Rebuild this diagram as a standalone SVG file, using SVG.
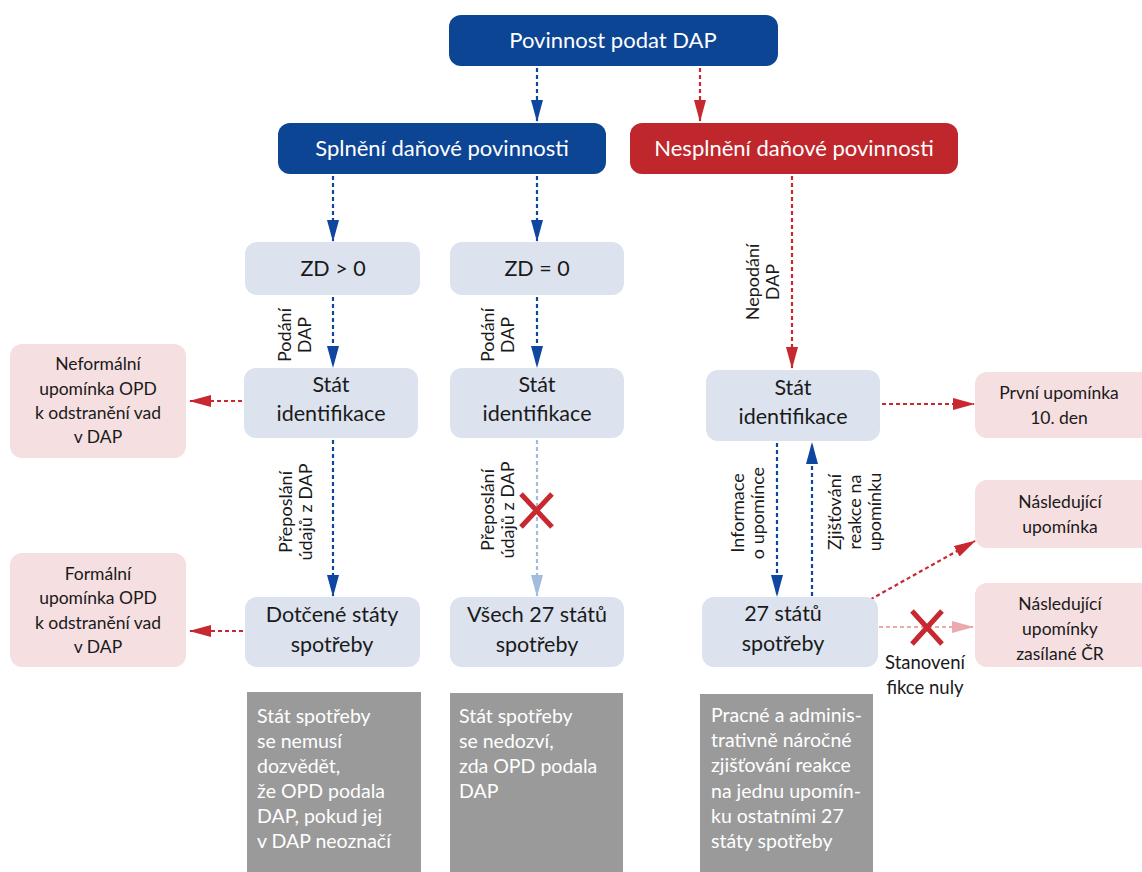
<svg xmlns="http://www.w3.org/2000/svg" width="1142" height="872" viewBox="0 0 1142 872">
<defs>
<style>
text{font-family:Lato,"Liberation Sans","DejaVu Sans",sans-serif;}
.dark{fill:#0d4595;}
.redbox{fill:#c0272d;}
.lb{fill:#dce3ee;}
.pk{fill:#f5dfe1;}
.gr{fill:#9a9a9a;}
.wt{fill:#ffffff;font-size:22px;text-anchor:middle;}
.nt{fill:#1a1a1a;font-size:21.5px;text-anchor:middle;}
.pt{fill:#1a1a1a;font-size:17.5px;text-anchor:middle;}
.st{fill:#1a1a1a;font-size:18.5px;text-anchor:middle;}
.gt{fill:#ffffff;font-size:19.5px;}
.lt{fill:#1a1a1a;font-size:18px;text-anchor:middle;}
.cb{fill:none;stroke:#0f47a0;stroke-width:2.2;stroke-dasharray:4 3;}
.cr{fill:none;stroke:#c8282f;stroke-width:2.2;stroke-dasharray:4 3;}
.clb{fill:none;stroke:#a3bbdc;stroke-width:2.2;stroke-dasharray:4 3;}
.clr{fill:none;stroke:#eba8ad;stroke-width:2.2;stroke-dasharray:4 3;}
.x{stroke:#c8282f;stroke-width:5;fill:none;}
</style>
<marker id="ab" markerUnits="userSpaceOnUse" markerWidth="22" markerHeight="12" refX="21" refY="6" orient="auto"><path d="M0,0 L22,6 L0,12 z" fill="#0f47a0"/></marker>
<marker id="ar" markerUnits="userSpaceOnUse" markerWidth="22" markerHeight="12" refX="21" refY="6" orient="auto"><path d="M0,0 L22,6 L0,12 z" fill="#c8282f"/></marker>
<marker id="alb" markerUnits="userSpaceOnUse" markerWidth="22" markerHeight="12" refX="21" refY="6" orient="auto"><path d="M0,0 L22,6 L0,12 z" fill="#a3bbdc"/></marker>
<marker id="alr" markerUnits="userSpaceOnUse" markerWidth="22" markerHeight="12" refX="21" refY="6" orient="auto"><path d="M0,0 L22,6 L0,12 z" fill="#eba8ad"/></marker>
</defs>
<rect width="1142" height="872" fill="#ffffff"/>

<g id="connectors">
<line class="cb" x1="537" y1="68" x2="537" y2="121" marker-end="url(#ab)"/>
<line class="cr" x1="700" y1="68" x2="700" y2="121" marker-end="url(#ar)"/>
<line class="cb" x1="333" y1="176" x2="333" y2="241" marker-end="url(#ab)"/>
<line class="cb" x1="537" y1="176" x2="537" y2="241" marker-end="url(#ab)"/>
<line class="cr" x1="792" y1="176" x2="792" y2="368" marker-end="url(#ar)"/>
<line class="cb" x1="333" y1="297" x2="333" y2="367" marker-end="url(#ab)"/>
<line class="cb" x1="537" y1="297" x2="537" y2="367" marker-end="url(#ab)"/>
<line class="cr" x1="242" y1="401" x2="190" y2="401" marker-end="url(#ar)"/>
<line class="cr" x1="882" y1="404" x2="974" y2="404" marker-end="url(#ar)"/>
<line class="cb" x1="333" y1="440" x2="333" y2="596" marker-end="url(#ab)"/>
<line class="clb" x1="537" y1="440" x2="537" y2="596" marker-end="url(#alb)"/>
<line class="cr" x1="243" y1="631" x2="190" y2="631" marker-end="url(#ar)"/>
<line class="cb" x1="777" y1="443" x2="777" y2="596" marker-end="url(#ab)"/>
<line class="cb" x1="812" y1="596" x2="812" y2="443" marker-end="url(#ab)"/>
<line class="cr" x1="864" y1="603" x2="975" y2="541" marker-end="url(#ar)"/>
<line class="clr" x1="879" y1="627" x2="973" y2="627" marker-end="url(#alr)"/>
<path class="x" d="M521,494 L552,527 M552,494 L521,527"/>
<path class="x" d="M912,611 L942,644 M942,611 L912,644"/>
<text class="lt" transform="translate(291,335) rotate(-90)"><tspan x="0" y="0">Podání</tspan><tspan x="0" dy="20">DAP</tspan></text>
<text class="lt" transform="translate(494,335) rotate(-90)"><tspan x="0" y="0">Podání</tspan><tspan x="0" dy="20">DAP</tspan></text>
<text class="lt" transform="translate(759,282) rotate(-90)"><tspan x="0" y="0">Nepodání</tspan><tspan x="0" dy="20">DAP</tspan></text>
<text class="lt" transform="translate(292,512) rotate(-90)"><tspan x="0" y="0">Přeposlání</tspan><tspan x="0" dy="20">údajů z DAP</tspan></text>
<text class="lt" transform="translate(494,510) rotate(-90)"><tspan x="0" y="0">Přeposlání</tspan><tspan x="0" dy="20">údajů z DAP</tspan></text>
<text class="lt" transform="translate(744,513) rotate(-90)"><tspan x="0" y="0">Informace</tspan><tspan x="0" dy="20">o upomínce</tspan></text>
<text class="lt" transform="translate(841,512) rotate(-90)"><tspan x="0" y="0">Zjišťování</tspan><tspan x="0" dy="20">reakce na</tspan><tspan x="0" dy="20">upomínku</tspan></text>
<text class="st" x="925" y="669">Stanovení</text>
<text class="st" x="925" y="694">fikce nuly</text>
</g>

<g id="n-povinnost"><rect class="dark" x="449" y="15" width="329" height="51" rx="12"/><text class="wt" x="613" y="48">Povinnost podat DAP</text></g>
<g id="n-splneni"><rect class="dark" x="278" y="123" width="328" height="51" rx="12"/><text class="wt" x="442" y="156">Splnění daňové povinnosti</text></g>
<g id="n-nesplneni"><rect class="redbox" x="630" y="123" width="328" height="51" rx="12"/><text class="wt" x="794" y="156">Nesplnění daňové povinnosti</text></g>

<g id="n-zd-gt"><rect class="lb" x="245" y="242" width="175" height="53" rx="12"/><text class="nt" x="333" y="276">ZD &gt; 0</text></g>
<g id="n-zd-eq"><rect class="lb" x="450" y="242" width="174" height="53" rx="12"/><text class="nt" x="537" y="276">ZD = 0</text></g>

<g id="n-stat-1"><rect class="lb" x="244" y="368" width="174" height="70" rx="12"/><text class="nt" x="331" y="392">Stát</text><text class="nt" x="331" y="421">identifikace</text></g>
<g id="n-stat-2"><rect class="lb" x="450" y="368" width="174" height="70" rx="12"/><text class="nt" x="537" y="392">Stát</text><text class="nt" x="537" y="421">identifikace</text></g>
<g id="n-stat-3"><rect class="lb" x="706" y="370" width="174" height="71" rx="12"/><text class="nt" x="793" y="395">Stát</text><text class="nt" x="793" y="424">identifikace</text></g>

<g id="n-neformalni"><rect class="pk" x="10" y="344" width="176" height="114" rx="12"/>
<text class="pt" x="98" y="370">Neformální</text><text class="pt" x="98" y="395">upomínka OPD</text><text class="pt" x="98" y="419">k odstranění vad</text><text class="pt" x="98" y="443">v DAP</text></g>
<g id="n-prvni"><rect class="pk" x="975" y="372" width="180" height="66" rx="12"/>
<text class="pt" x="1059" y="399">První upomínka</text><text class="pt" x="1059" y="424">10. den</text></g>

<g id="n-formalni"><rect class="pk" x="10" y="553" width="176" height="114" rx="12"/>
<text class="pt" x="98" y="580">Formální</text><text class="pt" x="98" y="604">upomínka OPD</text><text class="pt" x="98" y="629">k odstranění vad</text><text class="pt" x="98" y="653">v DAP</text></g>

<g id="n-dotcene"><rect class="lb" x="245" y="597" width="175" height="70" rx="12"/><text class="nt" x="332" y="622">Dotčené státy</text><text class="nt" x="332" y="652">spotřeby</text></g>
<g id="n-vsech"><rect class="lb" x="450" y="597" width="174" height="70" rx="12"/><text class="nt" x="537" y="622">Všech 27 států</text><text class="nt" x="537" y="652">spotřeby</text></g>
<g id="n-27"><rect class="lb" x="702" y="597" width="176" height="70" rx="12"/><text class="nt" x="783" y="621">27 států</text><text class="nt" x="783" y="651">spotřeby</text></g>

<g id="n-nasledujici"><rect class="pk" x="975" y="480" width="180" height="68" rx="12"/>
<text class="pt" x="1060" y="508">Následující</text><text class="pt" x="1060" y="533">upomínka</text></g>
<g id="n-nasledujici-cr"><rect class="pk" x="975" y="583" width="180" height="84" rx="12"/>
<text class="pt" x="1060" y="610">Následující</text><text class="pt" x="1060" y="635">upomínky</text><text class="pt" x="1060" y="660">zasílané ČR</text></g>

<g id="n-note-1"><rect class="gr" x="247" y="692" width="174" height="190"/>
<text class="gt" x="257" y="723">Stát spotřeby</text><text class="gt" x="257" y="748">se nemusí</text><text class="gt" x="257" y="773">dozvědět,</text><text class="gt" x="257" y="798">že OPD podala</text><text class="gt" x="257" y="823">DAP, pokud jej</text><text class="gt" x="257" y="848">v DAP neoznačí</text></g>
<g id="n-note-2"><rect class="gr" x="450" y="693" width="173" height="190"/>
<text class="gt" x="459" y="723">Stát spotřeby</text><text class="gt" x="459" y="748">se nedozví,</text><text class="gt" x="459" y="773">zda OPD podala</text><text class="gt" x="459" y="798">DAP</text></g>
<g id="n-note-3"><rect class="gr" x="700" y="694" width="173" height="190"/>
<text class="gt" x="711" y="722">Pracné a adminis-</text><text class="gt" x="711" y="747">trativně náročné</text><text class="gt" x="711" y="772">zjišťování reakce</text><text class="gt" x="711" y="798">na jednu upomín-</text><text class="gt" x="711" y="823">ku ostatními 27</text><text class="gt" x="711" y="848">státy spotřeby</text></g>
</svg>
